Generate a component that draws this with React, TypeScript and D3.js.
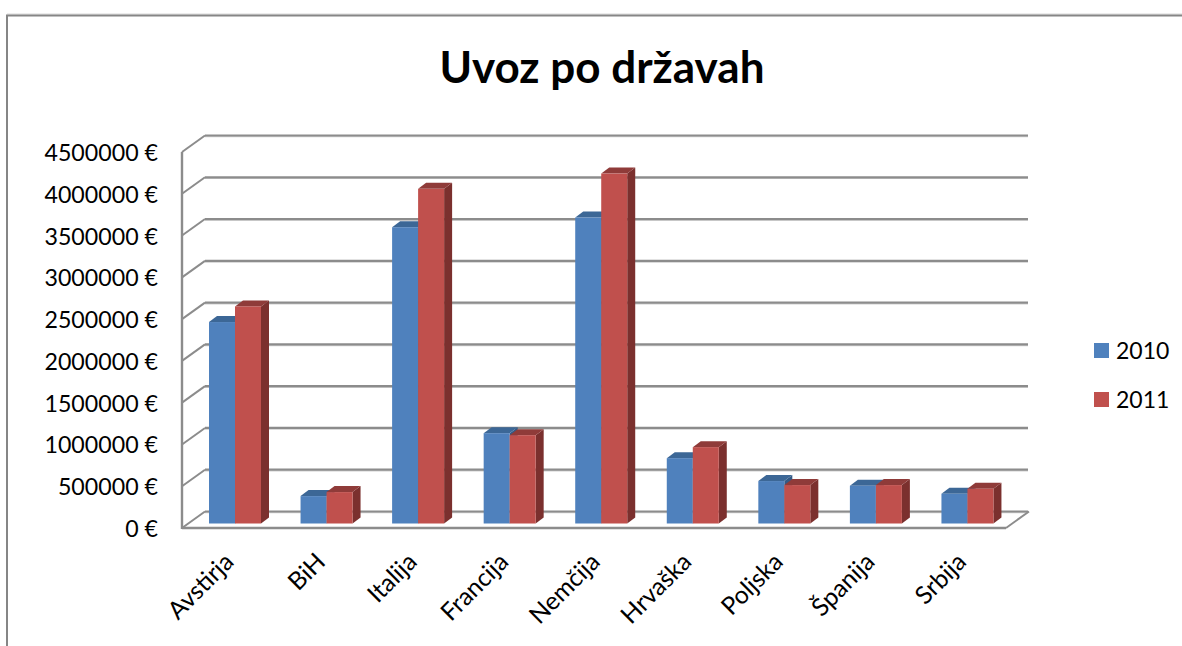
import React from 'react';
import * as d3 from 'd3';

const categories = ['Avstirja', 'BiH', 'Italija', 'Francija', 'Nemčija', 'Hrvaška', 'Poljska', 'Španija', 'Srbija'];
const values2010 = [2411000, 328000, 3546000, 1081000, 3662000, 782000, 508000, 452000, 356000];
const values2011 = [2598000, 376000, 4005000, 1057000, 4188000, 914000, 460000, 460000, 416000];
const yTicks = [0, 500000, 1000000, 1500000, 2000000, 2500000, 3000000, 3500000, 4000000, 4500000];
const seriesNames = ['2010', '2011'];

const FONT = 'Lato, "Open Sans", sans-serif';
const width = 1182;
const height = 646;

// front plane of the fake 3d box, back wall is shifted by depth
const left = 182;
const right = 1006;
const bottom = 528;
const top = 152;
const depthX = 23;
const depthY = -16.5;

const barDepthX = 8;
const barDepthY = -6;
const barBase = 523.5;
const barW = 26;

const colors = [
  { front: '#4f81bd', top: '#3c6796', side: '#335a86' },
  { front: '#c0504d', top: '#8f3b39', side: '#7b302e' },
];

const x = d3.scaleBand<string>().domain(categories).range([left, right]);
const y = d3.scaleLinear().domain([0, 4500000]).range([bottom, top]);
const yBar = d3.scaleLinear().domain([0, 4500000]).range([barBase, barBase - (bottom - top)]);

function Bar({ x0, v, c }: { x0: number; v: number; c: typeof colors[0] }) {
  const t = yBar(v);
  const x1 = x0 + barW;
  const sidePath = d3.path();
  sidePath.moveTo(x1, t);
  sidePath.lineTo(x1 + barDepthX, t + barDepthY);
  sidePath.lineTo(x1 + barDepthX, barBase + barDepthY);
  sidePath.lineTo(x1, barBase);
  sidePath.closePath();
  const topPath = d3.path();
  topPath.moveTo(x0, t);
  topPath.lineTo(x0 + barDepthX, t + barDepthY);
  topPath.lineTo(x1 + barDepthX, t + barDepthY);
  topPath.lineTo(x1, t);
  topPath.closePath();
  return (
    <g>
      <path d={sidePath.toString()} fill={c.side} />
      <path d={topPath.toString()} fill={c.top} />
      <rect x={x0} y={t} width={barW} height={barBase - t} fill={c.front} />
    </g>
  );
}

export default function App() {
  const gridColor = '#8c8c8c';
  return (
    <svg
      width={width}
      height={height}
      style={{ position: 'absolute', left: 0, top: 0, background: '#fff' }}
      fontFamily={FONT}
    >
      {/* outer frame */}
      <line x1={7} y1={14} x2={width} y2={14} stroke="#d8d8d8" strokeWidth={1} />
      <line x1={6} y1={15.5} x2={width} y2={15.5} stroke="#868686" strokeWidth={2} />
      <line x1={7} y1={15} x2={7} y2={height} stroke="#868686" strokeWidth={2} />

      <text x={602} y={83} textAnchor="middle" fontSize={44} fontWeight={700} fill="#000">
        Uvoz po državah
      </text>

      {/* back wall grid */}
      {yTicks.map((t) => (
        <g key={t}>
          <line x1={left + depthX} y1={y(t) + depthY + 1.2} x2={right + depthX - 1} y2={y(t) + depthY + 1.2} stroke="#cfcfcf" strokeWidth={1.2} />
          <line x1={left + depthX} y1={y(t) + depthY} x2={right + depthX - 1} y2={y(t) + depthY} stroke={gridColor} strokeWidth={2.2} />
          <line x1={left} y1={y(t)} x2={left + depthX} y2={y(t) + depthY} stroke={gridColor} strokeWidth={2} />
        </g>
      ))}
      {/* floor and axes */}
      <line x1={left} y1={top} x2={left} y2={bottom + 1} stroke={gridColor} strokeWidth={2.4} />
      <line x1={left} y1={bottom} x2={right} y2={bottom} stroke={gridColor} strokeWidth={2.4} />
      <line x1={right} y1={bottom} x2={right + depthX} y2={bottom + depthY} stroke={gridColor} strokeWidth={2} />

      {/* bars */}
      {categories.map((cat, i) => {
        const x0 = (x(cat) as number) + 27;
        return (
          <g key={cat}>
            <Bar x0={x0} v={values2010[i]} c={colors[0]} />
            <Bar x0={x0 + barW} v={values2011[i]} c={colors[1]} />
          </g>
        );
      })}

      {/* y labels */}
      {yTicks.map((t) => (
        <text key={t} x={158} y={y(t) + 9} textAnchor="end" fontSize={23.2} fill="#000">
          {`${t} €`}
        </text>
      ))}

      {/* x labels */}
      {categories.map((cat) => {
        const px = (x(cat) as number) + x.bandwidth() / 2 + 3;
        return (
          <text
            key={cat}
            transform={`translate(${px},559) rotate(-45)`}
            textAnchor="end"
            dominantBaseline="middle"
            fontSize={24.6}
            fill="#000"
          >
            {cat}
          </text>
        );
      })}

      {/* legend */}
      {seriesNames.map((name, i) => (
        <g key={name} transform={`translate(1094,${343 + i * 49})`}>
          <rect width={15} height={15} fill={colors[i].front} />
          <text x={22} y={16} fontSize={23} fill="#000">
            {name}
          </text>
        </g>
      ))}
    </svg>
  );
}
